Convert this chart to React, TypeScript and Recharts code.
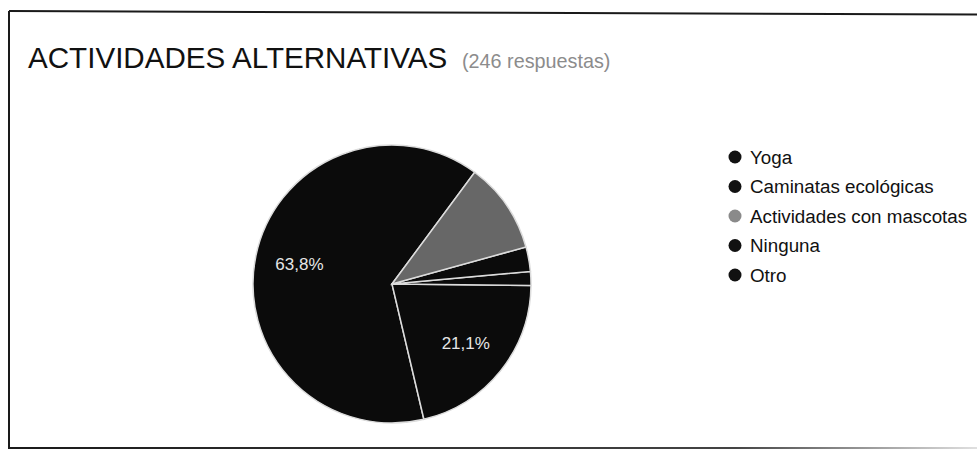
import React from 'react';
import { PieChart, Pie, Cell } from 'recharts';

const title = 'ACTIVIDADES ALTERNATIVAS';
const subtitle = '(246 respuestas)';
const categories = ['Yoga', 'Caminatas ecológicas', 'Actividades con mascotas', 'Ninguna', 'Otro'];
const counts = [157, 52, 26, 7, 4];
const colors = ['#0b0b0b', '#0b0b0b', '#676767', '#0b0b0b', '#0b0b0b'];
const legendColors = ['#111111', '#111111', '#8a8a8a', '#111111', '#111111'];
// order in which slices are drawn around the pie (counter-clockwise from start)
const drawOrder = [0, 1, 4, 3, 2];

const total = counts.reduce((a, b) => a + b, 0);
const pieData = drawOrder.map((i) => ({ name: categories[i], value: counts[i], color: colors[i] }));

const FONT = '"Liberation Sans", Arial, sans-serif';
const RAD = Math.PI / 180;

const renderLabel = (props: any) => {
  const { cx, cy, midAngle, outerRadius, value } = props;
  const pct = value / total;
  if (pct < 0.15) return null;
  const r = outerRadius * 0.68;
  const x = cx + r * Math.cos(-midAngle * RAD);
  const y = cy + r * Math.sin(-midAngle * RAD);
  const txt = (pct * 100).toFixed(1).replace('.', ',') + '%';
  return (
    <text x={x} y={y} fill="#e6e6e6" fontSize={17} fontFamily={FONT} textAnchor="middle" dominantBaseline="central">
      {txt}
    </text>
  );
};

export default function App() {
  return (
    <div style={{ position: 'absolute', left: 0, top: 0, width: 977, height: 452, background: '#fff', overflow: 'hidden' }}>
      <svg width={977} height={452} style={{ position: 'absolute', left: 0, top: 0 }}>
        <defs>
          <linearGradient id="bottomFade" x1="0" y1="0" x2="1" y2="0">
            <stop offset="0" stopColor="#1a1a1a" />
            <stop offset="0.75" stopColor="#444" />
            <stop offset="1" stopColor="#e0e0e0" />
          </linearGradient>
        </defs>
        <line x1={9} y1={11} x2={977} y2={14.5} stroke="#1a1a1a" strokeWidth={2} />
        <line x1={9} y1={11} x2={9} y2={448} stroke="#1a1a1a" strokeWidth={2} />
        <rect x={8} y={447} width={969} height={2} fill="url(#bottomFade)" />
        <text x={28} y={68} fontFamily={FONT} fontSize={29.6} fill="#111">{title}</text>
        <text x={462} y={68} fontFamily={FONT} fontSize={19.8} fill="#8c8c8c">{subtitle}</text>
        {categories.map((c, i) => (
          <g key={c}>
            <circle cx={735} cy={157 + i * 29.5} r={6.5} fill={legendColors[i]} />
            <text x={750} y={157 + i * 29.5 + 6.5} fontFamily={FONT} fontSize={18.8} fill="#111">{c}</text>
          </g>
        ))}
      </svg>
      <div style={{ position: 'absolute', left: 0, top: 0 }}>
        <PieChart width={977} height={452} margin={{ top: 0, right: 0, bottom: 0, left: 0 }}>
          <Pie
            data={pieData}
            dataKey="value"
            nameKey="name"
            cx={392}
            cy={284}
            outerRadius={139}
            startAngle={53.5}
            endAngle={413.5}
            stroke="#dcdcdc"
            strokeWidth={1.5}
            label={renderLabel}
            labelLine={false}
            isAnimationActive={false}
          >
            {pieData.map((d, i) => (
              <Cell key={i} fill={d.color} />
            ))}
          </Pie>
        </PieChart>
      </div>
    </div>
  );
}
